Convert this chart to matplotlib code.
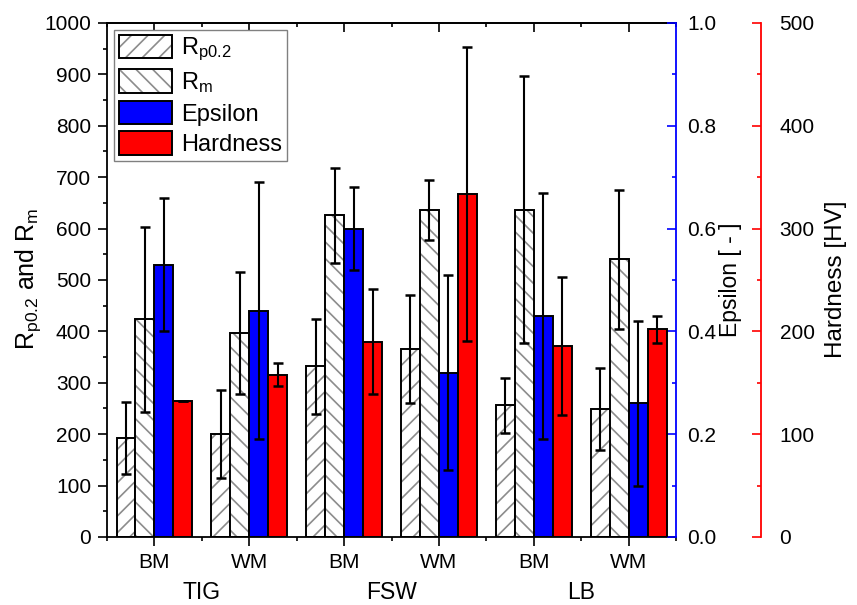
import matplotlib
matplotlib.use("Agg")
import matplotlib.pyplot as plt
import numpy as np
from matplotlib.patches import Patch

plt.rcParams['font.family'] = ['Liberation Sans', 'DejaVu Sans']
plt.rcParams['mathtext.default'] = 'regular'
plt.rcParams['hatch.linewidth'] = 1.2

# dados
amostras = ["BM", "WM", "BM", "WM", "BM", "WM"]
processos = ["TIG", "FSW", "LB"]

rp = [192, 200, 332, 366, 256, 249]
rp_err = [70, 86, 93, 105, 54, 79]
rm = [424, 397, 626, 636, 637, 540]
rm_err = [180, 118, 92, 58, 260, 135]
eps = [0.53, 0.44, 0.60, 0.32, 0.43, 0.26]
eps_err = [0.13, 0.25, 0.08, 0.19, 0.24, 0.16]
hv = [132, 158, 190, 334, 186, 202]
hv_err = [0, 11, 51, 143, 67, 13]

x = np.arange(1, len(amostras) + 1)
w = 0.2
cinza = "#8c8c8c"

fig = plt.figure(figsize=(8.57, 6.05), dpi=100)
ax = fig.add_axes([0.1249, 0.1124, 0.6639, 0.8496])
ax2 = ax.twinx()
ax3 = ax.twinx()

eb = dict(fmt="none", ecolor="k", elinewidth=1.5, capsize=3.6, capthick=1.8, zorder=5)

# Rp0.2 e Rm (hachurado)
ax.bar(x - 1.5 * w, rp, w, color="white", edgecolor=cinza, hatch="//", linewidth=0)
ax.bar(x - 1.5 * w, rp, w, fill=False, edgecolor="k", linewidth=1.4)
ax.errorbar(x - 1.5 * w, rp, yerr=rp_err, **eb)
ax.bar(x - 0.5 * w, rm, w, color="white", edgecolor=cinza, hatch="\\\\", linewidth=0)
ax.bar(x - 0.5 * w, rm, w, fill=False, edgecolor="k", linewidth=1.4)
ax.errorbar(x - 0.5 * w, rm, yerr=rm_err, **eb)

# Epsilon
ax2.bar(x + 0.5 * w, eps, w, color="#0000ff", edgecolor="k", linewidth=1.4)
ax2.errorbar(x + 0.5 * w, eps, yerr=eps_err, **eb)

# Hardness
ax3.bar(x + 1.5 * w, hv, w, color="#ff0000", edgecolor="k", linewidth=1.4)
ax3.errorbar(x + 1.5 * w, hv, yerr=hv_err, **eb)

# eixo principal
ax.set_xlim(0.5, 6.5)
ax.set_ylim(0, 1000)
ax.set_xticks(x)
ax.set_xticklabels(amostras)
ax.set_xticks(np.arange(0.5, 6.6, 1), minor=True)
ax.set_yticks(np.arange(0, 1001, 100))
ax.set_yticks(np.arange(0, 1001, 50), minor=True)
ax.tick_params(axis="x", which="both", direction="out", top=False, labelsize=15, pad=5, width=1.2)
ax.tick_params(axis="y", which="both", direction="out", right=False, labelsize=15, pad=5, width=1.2)
ax.tick_params(which="major", length=6.5)
ax.tick_params(which="minor", length=3)
for s in ["left", "bottom", "top"]:
    ax.spines[s].set_linewidth(1.3)
ax.spines["right"].set_visible(False)

# ticks internos no topo
top = ax.secondary_xaxis("top")
top.set_xticks(x)
top.set_xticks(np.arange(0.5, 6.6, 1), minor=True)
top.tick_params(which="both", direction="in", labeltop=False, width=1.2)
top.tick_params(which="major", length=6.5)
top.tick_params(which="minor", length=3)
top.spines["top"].set_linewidth(1.3)

# eixo Epsilon (azul)
ax2.set_ylim(0, 1.0)
ax2.set_yticks(np.arange(0, 1.01, 0.2))
ax2.set_yticks(np.arange(0, 1.01, 0.1), minor=True)
ax2.yaxis.set_major_formatter(matplotlib.ticker.FormatStrFormatter("%.1f"))
ax2.tick_params(axis="y", which="both", direction="in", colors="#0000ff", labelcolor="k",
                labelsize=15, pad=8, width=1.2)
ax2.tick_params(axis="y", which="major", length=6.5)
ax2.tick_params(axis="y", which="minor", length=3)
for s in ["left", "top", "bottom"]:
    ax2.spines[s].set_visible(False)
ax2.spines["right"].set_color("#0000ff")
ax2.spines["right"].set_linewidth(1.3)

# eixo Hardness (vermelho)
ax3.set_ylim(0, 500)
ax3.set_yticks(np.arange(0, 501, 100))
ax3.set_yticks(np.arange(0, 501, 50), minor=True)
ax3.spines["right"].set_position(("axes", 1.149))
ax3.tick_params(axis="y", which="both", direction="in", colors="#ff0000", labelcolor="k",
                labelsize=15, pad=13.5, width=1.2)
ax3.tick_params(axis="y", which="major", length=6.5)
ax3.tick_params(axis="y", which="minor", length=3)
for s in ["left", "top", "bottom"]:
    ax3.spines[s].set_visible(False)
ax3.spines["right"].set_color("#ff0000")
ax3.spines["right"].set_linewidth(1.3)

# rótulos
fig.text(28 / 857, 1 - 279 / 605, "R$_{p0.2}$ and R$_m$", rotation=90, ha="center", va="center", fontsize=18)
fig.text(731 / 857, 1 - 280 / 605, "Epsilon [ - ]", rotation=90, ha="center", va="center", fontsize=16.5)
fig.text(836 / 857, 1 - 279 / 605, "Hardness [HV]", rotation=90, ha="center", va="center", fontsize=17.5)

for i, p in enumerate(processos):
    ax.text(2 * i + 1.5, -0.108, p, transform=ax.get_xaxis_transform(), ha="center", va="center", fontsize=16.5)

# legenda
h_rp = (Patch(facecolor="white", edgecolor=cinza, hatch="//", linewidth=0),
        Patch(fill=False, edgecolor="k", linewidth=1.4))
h_rm = (Patch(facecolor="white", edgecolor=cinza, hatch="\\\\", linewidth=0),
        Patch(fill=False, edgecolor="k", linewidth=1.4))
h_eps = Patch(facecolor="#0000ff", edgecolor="k", linewidth=1.4)
h_hv = Patch(facecolor="#ff0000", edgecolor="k", linewidth=1.4)
leg = ax3.legend([h_rp, h_rm, h_eps, h_hv], ["R$_{p0.2}$", "R$_m$", "Epsilon", "Hardness"],
                 loc="upper left", fontsize=17, handlelength=2.25, handleheight=1.15,
                 labelspacing=0.25, handletextpad=0.38, borderpad=0.2, borderaxespad=0.3,
                 fancybox=False, framealpha=1)
leg.get_frame().set_edgecolor("#808080")
leg.get_frame().set_linewidth(1.0)

plt.savefig("out.png", dpi=100)
